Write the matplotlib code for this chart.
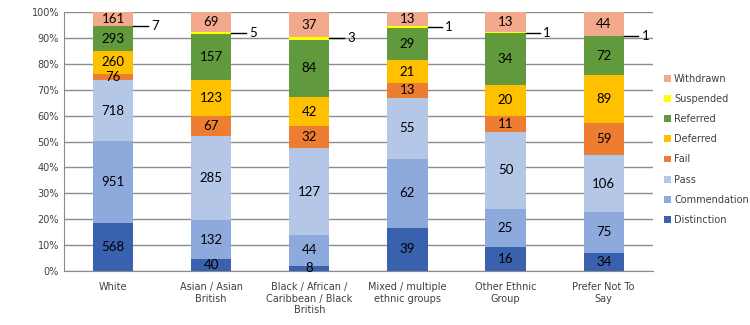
import matplotlib.pyplot as plt
import numpy as np

# Categories and counts per outcome
groups = ['White', 'Asian / Asian\nBritish', 'Black / African /\nCaribbean / Black\nBritish',
          'Mixed / multiple\nethnic groups', 'Other Ethnic\nGroup', 'Prefer Not To\nSay']
distinction = [568, 40, 8, 39, 16, 34]
commendation = [951, 132, 44, 62, 25, 75]
passed = [718, 285, 127, 55, 50, 106]
fail = [76, 67, 32, 13, 11, 59]
deferred = [260, 123, 42, 21, 20, 89]
referred = [293, 157, 84, 29, 34, 72]
suspended = [7, 5, 3, 1, 1, 1]
withdrawn = [161, 69, 37, 13, 13, 44]

series = [
    ('Distinction', distinction, '#3a61ad'),
    ('Commendation', commendation, '#8eaadc'),
    ('Pass', passed, '#b4c7e7'),
    ('Fail', fail, '#ed7d31'),
    ('Deferred', deferred, '#ffc000'),
    ('Referred', referred, '#619a3c'),
    ('Suspended', suspended, '#ffff00'),
    ('Withdrawn', withdrawn, '#f3a98b'),
]

totals = np.sum([s[1] for s in series], axis=0)
x = np.arange(len(groups))
width = 0.41

fig = plt.figure(figsize=(7.5, 3.25), dpi=100)
ax = fig.add_axes([0.0853, 0.166, 0.785, 0.797])

bottom = np.zeros(len(groups))
for name, vals, color in series:
    pct = np.array(vals) / totals * 100
    bars = ax.bar(x, pct, width, bottom=bottom, color=color, label=name, zorder=3)
    for i, bar in enumerate(bars):
        cy = bottom[i] + pct[i] / 2
        if name == 'Suspended':
            # small values get a leader line to the right
            x0 = bar.get_x() + bar.get_width()
            ax.plot([x0, x0 + 0.15], [cy, cy], color='black', lw=1, zorder=4, clip_on=False)
            ax.text(x0 + 0.18, cy, str(vals[i]), ha='left', va='center', fontsize=9.5,
                    family='Lato', color='black')
        else:
            ax.text(x[i], cy, str(vals[i]), ha='center', va='center', fontsize=9.5,
                    family='Lato', color='black', zorder=5)
    bottom += pct

ax.set_xlim(-0.5, len(groups) - 0.5)
ax.set_ylim(0, 100)
ax.set_yticks(np.arange(0, 101, 10))
ax.set_yticklabels([f'{v}%' for v in range(0, 101, 10)])
ax.set_xticks(x)
ax.set_xticklabels(groups)
ax.tick_params(axis='both', length=0, labelsize=7, colors='#404040')
ax.tick_params(axis='x', pad=8)
ax.grid(axis='y', color='#8c8c8c', lw=1, zorder=0)
for s in ['top', 'right']:
    ax.spines[s].set_visible(False)
ax.spines['left'].set_color('#8c8c8c')
ax.spines['bottom'].set_color('#8c8c8c')

handles, labels = ax.get_legend_handles_labels()
ax.legend(handles[::-1], labels[::-1], loc='center left', bbox_to_anchor=(1.005, 0.47),
          frameon=False, fontsize=7, handlelength=0.7, handleheight=0.7,
          handletextpad=0.3, labelspacing=1.05, labelcolor='#404040')

plt.savefig('out.png', dpi=100)
